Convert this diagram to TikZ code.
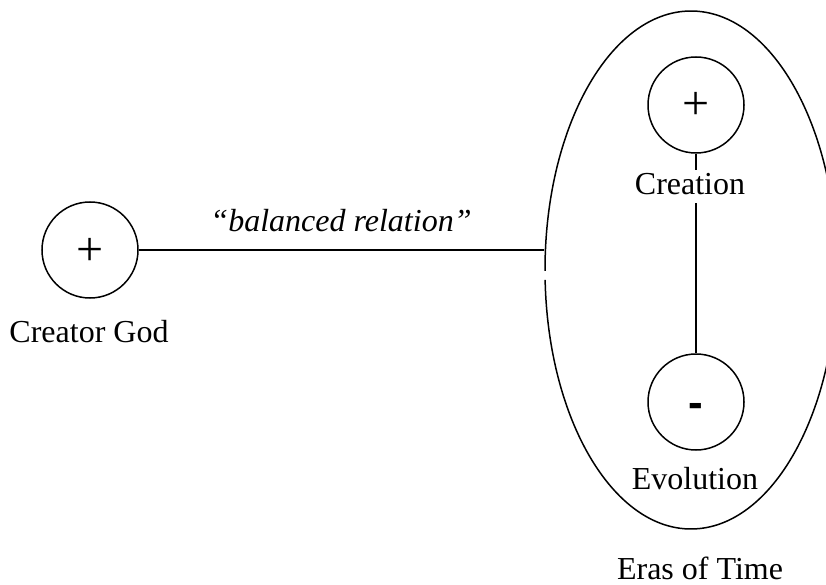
\documentclass[tikz,border=0pt]{standalone}
\usepackage{fontspec}
\setmainfont{Liberation Serif}
\newfontfamily\signfont{Liberation Sans}
\usetikzlibrary{shapes.geometric}
\tikzset{
  orb/.style={circle, draw, minimum size=96pt, inner sep=0pt,
    font=\fontsize{48}{52}\selectfont},
  lbl/.style={anchor=base, inner sep=0pt, font=\fontsize{32}{36}\selectfont},
}
\begin{document}
\begin{tikzpicture}[x=1pt, y=-1pt, line width=1.5pt]
\clip (0,0) rectangle (826,585);
% ellipse (Eras of Time)
\node[ellipse, minimum width=292pt, minimum height=518pt, inner sep=0pt] (era) at (691,270) {};
\draw ([shift={(179.8:146 and 259)}]era.center) arc[start angle=179.8, end angle=537.8, x radius=146, y radius=259];
% circles
\node[orb] (cg) at (90,250) {\raisebox{-15pt}[0pt][0pt]{+}};
\node[orb] (cr) at (696,105) {\raisebox{-15pt}[0pt][0pt]{+}};
\node[orb] (ev) at (696,402) {\fontsize{44}{48}\selectfont\signfont\bfseries\raisebox{-15pt}[0pt][0pt]{-}};
% connectors
\draw (cg.east) -- (cg.east -| era.west);
\draw (cr.south) -- (ev.north);
% labels
\node[lbl] (cgl) at (89,342) {Creator God};
\node[lbl] (rel) at (341,232) {\itshape “balanced relation”};
\node[lbl, fill=white, inner sep=0pt, text depth=8pt, text height=25pt] (crl) at (690,195) {Creation};
\node[lbl] (evl) at (695,489) {Evolution};
\node[lbl] (eral) at (700,579) {Eras of Time};
\end{tikzpicture}
\end{document}
